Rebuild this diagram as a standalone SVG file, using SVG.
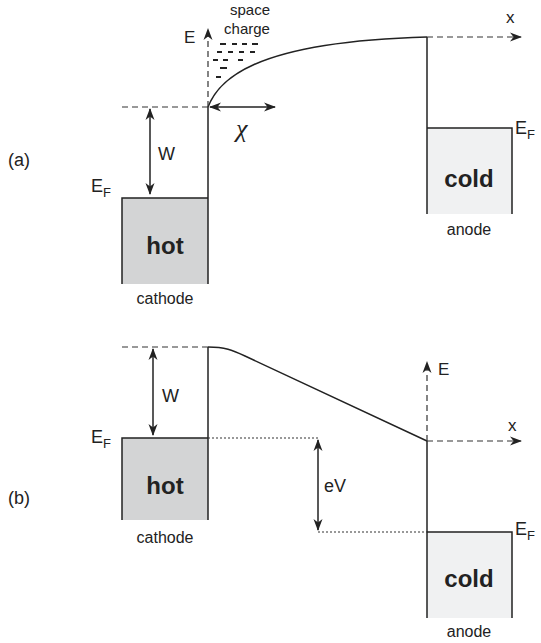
<svg xmlns="http://www.w3.org/2000/svg" width="541" height="643" viewBox="0 0 541 643">
<defs>
<marker id="ah" viewBox="0 0 12 10" refX="11" refY="5" markerWidth="12" markerHeight="10" markerUnits="userSpaceOnUse" orient="auto-start-reverse">
<path d="M0,0.5 L12,5 L0,9.5 L3.5,5 Z" fill="#222"/>
</marker>
<style>
.t{font-family:"Liberation Sans",Arial,sans-serif;fill:#222}
.solid{stroke:#222;stroke-width:1.5;fill:none}
.dash{stroke:#333;stroke-width:1.2;fill:none;stroke-dasharray:6,4}
.dot{stroke:#333;stroke-width:1.2;fill:none;stroke-dasharray:2,2}
.arr{stroke:#222;stroke-width:1.5;fill:none}
.sc{stroke:#222;stroke-width:2}
</style>
</defs>
<rect width="541" height="643" fill="#fff"/>

<!-- (a) -->
<text class="t" x="8" y="166" font-size="18">(a)</text>
<g id="cathode-a">
<rect x="122" y="198" width="86" height="86" fill="#d3d4d5"/>
<path class="solid" d="M122,284 V198 H208"/>
<text class="t" x="165" y="254" font-size="24" font-weight="bold" text-anchor="middle">hot</text>
<text class="t" x="165" y="304" font-size="16" text-anchor="middle">cathode</text>
<text class="t" x="91" y="192" font-size="18">E<tspan font-size="13" dy="5">F</tspan></text>
</g>
<g id="anode-a">
<rect x="427" y="128" width="85" height="86" fill="#f0f1f2"/>
<path class="solid" d="M427,128 H512 V214"/>
<text class="t" x="469" y="187" font-size="24" font-weight="bold" text-anchor="middle">cold</text>
<text class="t" x="469" y="235" font-size="16" text-anchor="middle">anode</text>
<text class="t" x="515" y="134" font-size="18">E<tspan font-size="13" dy="5">F</tspan></text>
</g>
<g id="connectors-a">
<path class="solid" d="M208,284 V107"/>
<path class="solid" d="M427,214 V37"/>
<path class="solid" d="M208,107 C218,82 248,42 427,37"/>
<path class="dash" d="M122,107 H208"/>
<path class="dash" d="M208,107 V29" marker-end="url(#ah)"/>
<path class="dash" d="M427,37 H521" marker-end="url(#ah)"/>
<path class="arr" d="M150,109 V194" marker-start="url(#ah)" marker-end="url(#ah)"/>
<path class="arr" d="M210,107 H275" marker-start="url(#ah)" marker-end="url(#ah)"/>
<g class="sc">
<line x1="220" y1="44" x2="226" y2="44"/><line x1="232" y1="44" x2="237" y2="44"/><line x1="242" y1="44" x2="247" y2="44"/><line x1="252" y1="44" x2="258" y2="44"/>
<line x1="217" y1="52" x2="222" y2="52"/><line x1="228" y1="52" x2="233" y2="52"/><line x1="239" y1="52" x2="244" y2="52"/><line x1="250" y1="52" x2="255" y2="52"/>
<line x1="213" y1="60" x2="218" y2="60"/><line x1="223" y1="60" x2="228" y2="60"/><line x1="238" y1="60" x2="243" y2="60"/>
<line x1="220" y1="68" x2="227" y2="68"/>
<line x1="216" y1="77" x2="221" y2="77"/>
</g>
</g>
<text class="t" x="184" y="43" font-size="17">E</text>
<text class="t" x="250" y="15" font-size="15" text-anchor="middle">space</text>
<text class="t" x="247" y="34" font-size="15" text-anchor="middle">charge</text>
<text class="t" x="158" y="160" font-size="18">W</text>
<text x="236" y="137" font-size="26" font-style="italic" font-family="'Liberation Serif','Times New Roman',serif" fill="#222">χ</text>
<text class="t" x="506" y="23" font-size="17">x</text>

<!-- (b) -->
<text class="t" x="8" y="504" font-size="18">(b)</text>
<g id="cathode-b">
<rect x="122" y="438" width="86" height="82" fill="#d3d4d5"/>
<path class="solid" d="M122,520 V438 H208"/>
<text class="t" x="165" y="494" font-size="24" font-weight="bold" text-anchor="middle">hot</text>
<text class="t" x="165" y="543" font-size="16" text-anchor="middle">cathode</text>
<text class="t" x="91" y="443" font-size="18">E<tspan font-size="13" dy="5">F</tspan></text>
</g>
<g id="anode-b">
<rect x="427" y="532" width="85" height="86" fill="#f0f1f2"/>
<path class="solid" d="M427,532 H512 V618"/>
<text class="t" x="469" y="587" font-size="24" font-weight="bold" text-anchor="middle">cold</text>
<text class="t" x="469" y="637" font-size="16" text-anchor="middle">anode</text>
<text class="t" x="515" y="535" font-size="18">E<tspan font-size="13" dy="5">F</tspan></text>
</g>
<g id="connectors-b">
<path class="solid" d="M208,520 V347"/>
<path class="solid" d="M427,618 V441"/>
<path class="solid" d="M208,347 C225,347 232,350 245,356 L427,441"/>
<path class="dash" d="M122,347 H208"/>
<path class="dash" d="M427,441 V362" marker-end="url(#ah)"/>
<path class="dash" d="M427,441 H521" marker-end="url(#ah)"/>
<path class="dot" d="M208,438 H318"/>
<path class="dot" d="M318,532 H427"/>
<path class="arr" d="M153,349 V435" marker-start="url(#ah)" marker-end="url(#ah)"/>
<path class="arr" d="M318,440 V530" marker-start="url(#ah)" marker-end="url(#ah)"/>
</g>
<text class="t" x="162" y="402" font-size="18">W</text>
<text class="t" x="324" y="492" font-size="18">eV</text>
<text class="t" x="438" y="375" font-size="17">E</text>
<text class="t" x="508" y="431" font-size="17">x</text>
</svg>
